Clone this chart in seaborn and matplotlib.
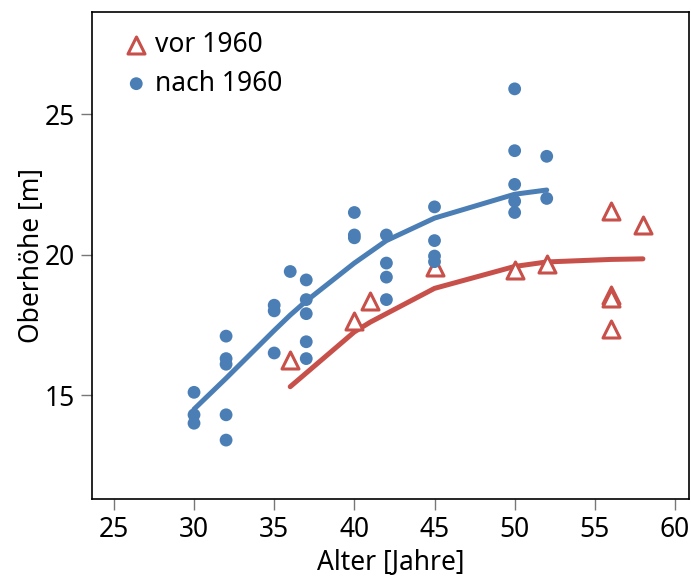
# Oberhöhe über Alter, vor und nach 1960
import numpy as np
import pandas as pd
import seaborn as sns
import matplotlib.pyplot as plt

# Messpunkte nach 1960
alter_nach = [30, 30, 30, 32, 32, 32, 32, 32, 35, 35, 35, 36, 37, 37, 37, 37, 37,
              40, 40, 40, 42, 42, 42, 42, 45, 45, 45, 45, 50, 50, 50, 50, 50, 52, 52]
hoehe_nach = [15.1, 14.3, 14.0, 17.1, 16.3, 16.1, 14.3, 13.4, 18.2, 18.0, 16.5, 19.4,
              19.1, 18.4, 17.9, 16.9, 16.3, 21.5, 20.7, 20.6, 20.7, 19.7, 19.2, 18.4,
              21.7, 20.5, 19.95, 19.75, 25.9, 23.7, 22.5, 21.9, 21.5, 23.5, 22.0]

# Messpunkte vor 1960
alter_vor = [36, 40, 41, 45, 50, 52, 56, 56, 56, 56, 58]
hoehe_vor = [16.25, 17.65, 18.35, 19.55, 19.45, 19.65, 21.55, 18.55, 18.45, 17.35, 21.05]

# Ausgleichskurven
kurve_nach_x = [30, 32, 35, 36, 37, 40, 42, 45, 50, 52]
kurve_nach_y = [14.5, 15.6, 17.3, 17.85, 18.35, 19.7, 20.5, 21.3, 22.15, 22.3]
kurve_vor_x = [36, 40, 41, 45, 50, 52, 56, 58]
kurve_vor_y = [15.3, 17.25, 17.6, 18.8, 19.58, 19.74, 19.83, 19.85]

blau = "#4a7eb4"
rot = "#c8504a"

sns.set_style("white")
plt.rcParams['font.family'] = ['Noto Sans', 'DejaVu Sans']
plt.rcParams['text.color'] = 'black'
plt.rcParams['axes.labelcolor'] = 'black'
plt.rcParams['xtick.color'] = 'black'
plt.rcParams['ytick.color'] = 'black'

fig = plt.figure(figsize=(6.91, 5.79), dpi=100)
ax = fig.add_axes([0.133, 0.138, 0.864, 0.841])

sns.lineplot(x=kurve_nach_x, y=kurve_nach_y, color=blau, lw=3.6, ax=ax,
             solid_capstyle='round')
sns.lineplot(x=kurve_vor_x, y=kurve_vor_y, color=rot, lw=3.6, ax=ax,
             solid_capstyle='round')

sns.scatterplot(x=alter_vor, y=hoehe_vor, marker='^', s=150, facecolor='white',
                edgecolor=rot, linewidth=2.2, ax=ax, zorder=3, label='vor 1960')
sns.scatterplot(x=alter_nach, y=hoehe_nach, marker='o', s=85, color=blau,
                edgecolor='none', ax=ax, zorder=4, label='nach 1960')

ax.set_xlim(23.63, 60.87)
ax.set_ylim(11.3, 28.63)
ax.set_xticks(range(25, 61, 5))
ax.set_yticks([15, 20, 25])
ax.tick_params(bottom=True, left=True, direction='out', length=8, width=1,
               color='#777777', labelcolor='black', labelsize=19, pad=4)
for s in ax.spines.values():
    s.set_color('black')
    s.set_linewidth(1.2)

ax.set_xlabel("Alter [Jahre]", fontsize=19, labelpad=4)
ax.set_ylabel("Oberhöhe [m]", fontsize=19, labelpad=-1)

ax.legend(loc='upper left', frameon=False, fontsize=19, handletextpad=0.1,
          borderaxespad=0.5, labelspacing=0.4, handlelength=1.2,
          bbox_to_anchor=(0.008, 1.01))

fig.savefig("out.png", dpi=100)
